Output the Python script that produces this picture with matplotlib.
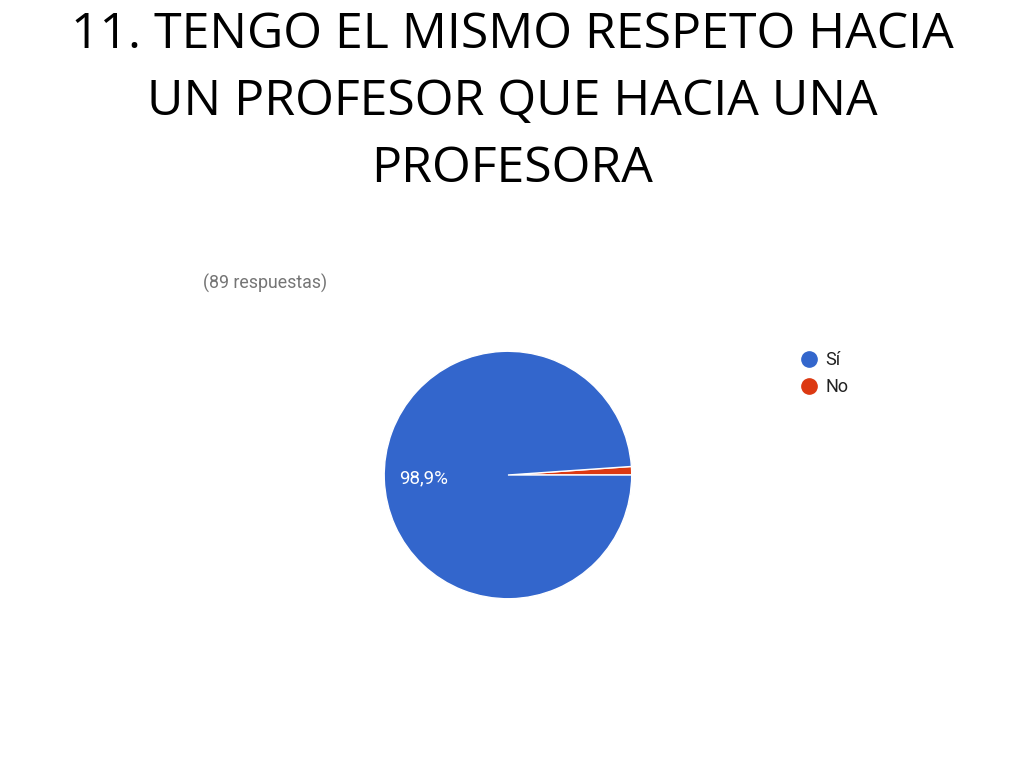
import matplotlib.pyplot as plt
from matplotlib.lines import Line2D

# datos de la encuesta
labels = ["Sí", "No"]
values = [98.9, 1.1]
colors = ["#3366cc", "#dc3912"]
title = "11. TENGO EL MISMO RESPETO HACIA\nUN PROFESOR QUE HACIA UNA\nPROFESORA"
n_resp = "(89 respuestas)"

fig = plt.figure(figsize=(10.24, 7.68), dpi=100)
fig.patch.set_facecolor("white")

fig.text(0.5, 1 - 10 / 768, title, ha="center", va="top", fontsize=36,
         family=["Open Sans", "DejaVu Sans"], color="black", linespacing=1.47)
fig.text(203 / 1024, 1 - 283 / 768, n_resp, ha="left", va="center",
         fontsize=12.8, family="Roboto", color="#757575")

ax = fig.add_axes([0.374, 0.21875, 0.2441, 0.3255])
# orden No primero para que la cuña roja quede justo encima de las 3 en punto
order = [1, 0]
wedges, texts, autotexts = ax.pie(
    [values[i] for i in order], colors=[colors[i] for i in order],
    startangle=0, counterclock=True,
    autopct=lambda p: f"{p:.1f}%".replace(".", ",") if p > 5 else "",
    pctdistance=0.68, wedgeprops=dict(edgecolor="white", linewidth=1),
    textprops=dict(color="white", fontsize=13.5, family="Roboto"))
ax.set_xlim(-1.01, 1.01)
ax.set_ylim(-1.01, 1.01)
ax.set_aspect("equal")
ax.axis("off")

handles = [Line2D([0], [0], marker="o", linestyle="none", markersize=11,
                  markerfacecolor=c, markeredgecolor=c) for c in colors]
fig.legend(handles, labels, loc="upper left", bbox_to_anchor=(782 / 1024, 1 - 335 / 768),
           frameon=False, prop=dict(family="Roboto", size=13), handletextpad=0.3,
           labelspacing=0.5, labelcolor="#222222", handlelength=1.2)

plt.savefig("out.png", dpi=100)
